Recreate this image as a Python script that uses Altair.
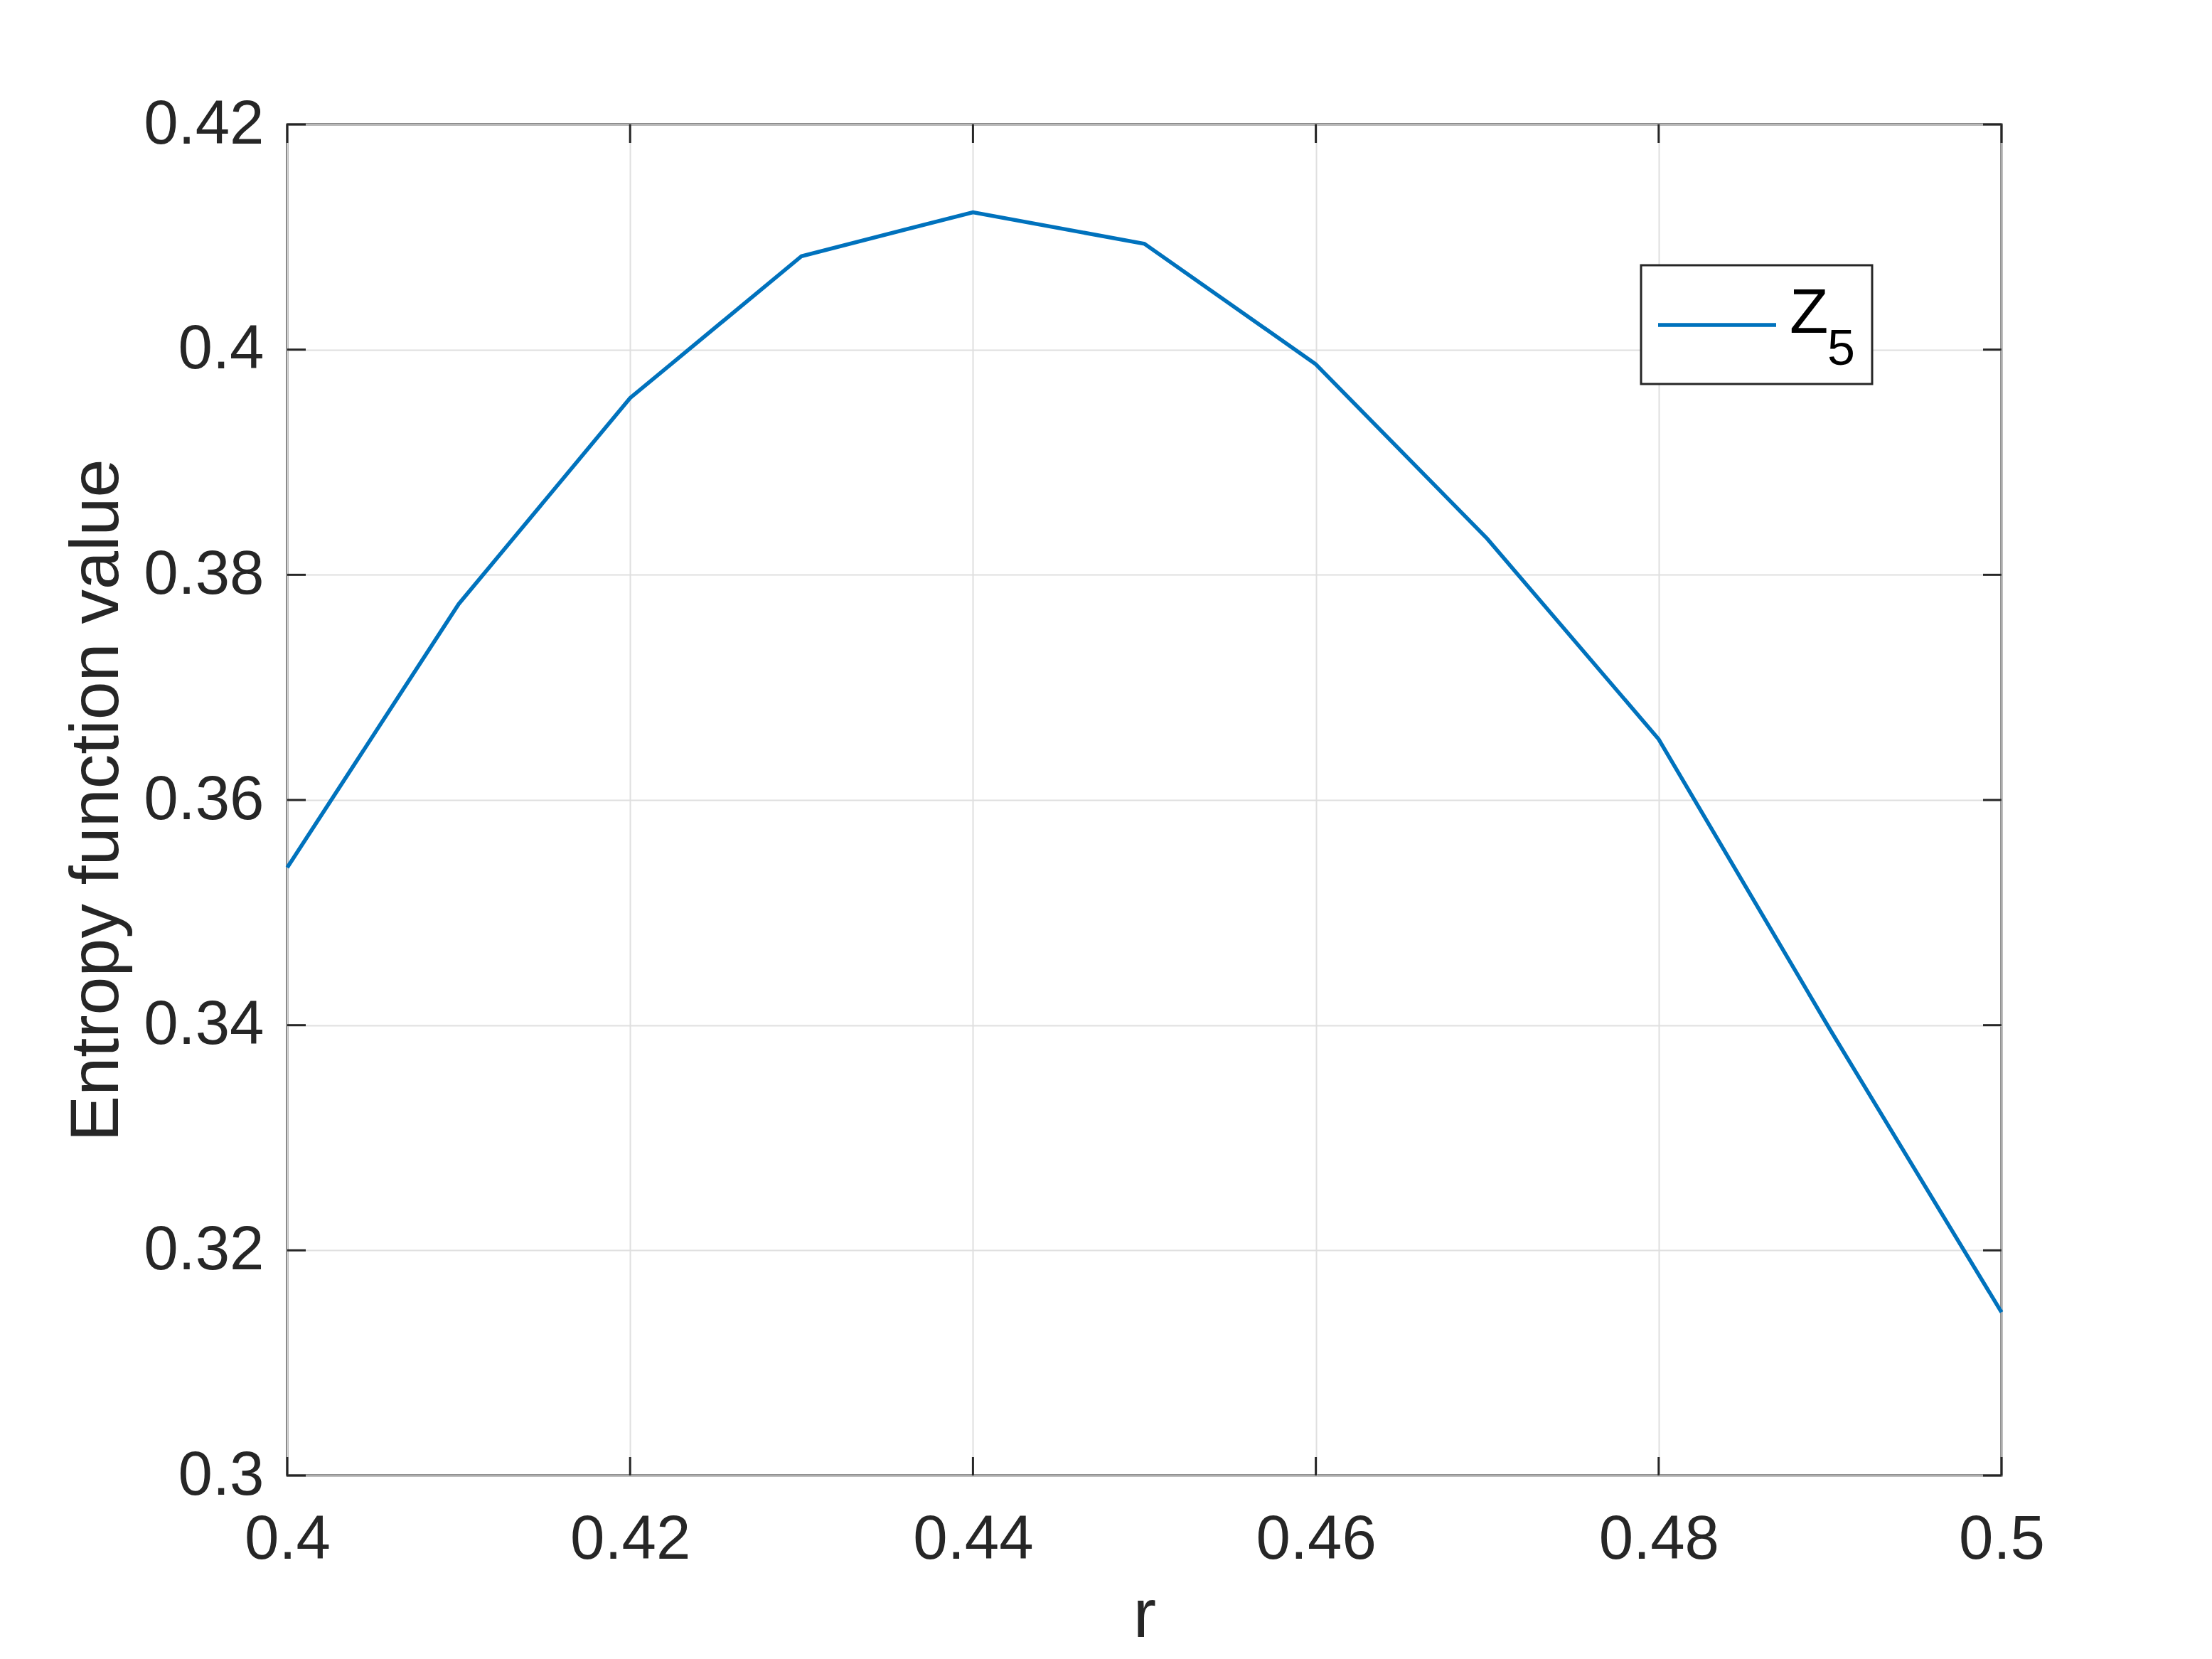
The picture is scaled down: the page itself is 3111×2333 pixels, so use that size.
import altair as alt
import pandas as pd

# ---- data ----
r_values = [0.40, 0.41, 0.42, 0.43, 0.44, 0.45, 0.46, 0.47, 0.48, 0.49, 0.50]
entropy_values = [0.3540, 0.3774, 0.3957, 0.4083, 0.4122, 0.4094, 0.3987, 0.3832, 0.3654, 0.3396, 0.3145]
x_ticks = [0.40, 0.42, 0.44, 0.46, 0.48, 0.50]
y_ticks = [0.30, 0.32, 0.34, 0.36, 0.38, 0.40, 0.42]
legend_label = ["Z"]
legend_sub = ["5"]

W, H = 2411, 1900
TICK = 26
FONT = "Liberation Sans"
DARK = "#262626"
BLUE = "#0072BD"

df = pd.DataFrame({"r": r_values, "v": entropy_values})
xt = pd.DataFrame({"r": x_ticks})
yt = pd.DataFrame({"v": y_ticks})
one = pd.DataFrame({"label": legend_label, "sub": legend_sub})

xs = alt.Scale(domain=[0.4, 0.5], nice=False)
ys = alt.Scale(domain=[0.3, 0.42], nice=False, zero=False)

x_axis = alt.Axis(
    values=x_ticks, format=".2~f", title="r", labelPadding=47,
    labelFlush=False, labelOverlap=False,
    titleX=W / 2, titleY=226, titleBaseline="alphabetic", titleAlign="center")
y_axis = alt.Axis(
    values=y_ticks, format=".2~f", title="Entropy function value", labelPadding=33,
    labelFlush=False, labelOverlap=False,
    titleX=-239, titleY=H / 2, titleAngle=270, titleBaseline="alphabetic", titleAlign="center")

X = alt.X("r:Q", scale=xs, axis=x_axis)
Y = alt.Y("v:Q", scale=ys, axis=y_axis)

line = alt.Chart(df).mark_line(color=BLUE, strokeWidth=5.5).encode(x=X, y=Y)

rule_style = dict(color=DARK, strokeWidth=3)
xt_bottom = alt.Chart(xt).mark_rule(**rule_style).encode(
    x=X, y=alt.value(H), y2=alt.value(H - TICK))
xt_top = alt.Chart(xt).mark_rule(**rule_style).encode(
    x=X, y=alt.value(0), y2=alt.value(TICK))
yt_left = alt.Chart(yt).mark_rule(**rule_style).encode(
    y=Y, x=alt.value(0), x2=alt.value(TICK))
yt_right = alt.Chart(yt).mark_rule(**rule_style).encode(
    y=Y, x=alt.value(W), x2=alt.value(W - TICK))

leg_box = alt.Chart(one).mark_rect(fill="white", stroke=DARK, strokeWidth=3).encode(
    x=alt.value(1904), x2=alt.value(2229), y=alt.value(198), y2=alt.value(365))
leg_line = alt.Chart(one).mark_rule(color=BLUE, strokeWidth=5.5).encode(
    x=alt.value(1928), x2=alt.value(2094), y=alt.value(282))
leg_text = alt.Chart(one).mark_text(font=FONT, fontSize=89, align="left",
                                    baseline="alphabetic", color="black").encode(
    x=alt.value(2113), y=alt.value(293), text="label:N")
leg_sub = alt.Chart(one).mark_text(font=FONT, fontSize=70, align="left",
                                   baseline="alphabetic", color="black").encode(
    x=alt.value(2166), y=alt.value(338), text="sub:N")

chart = alt.layer(
    line, xt_bottom, xt_top, yt_left, yt_right, leg_box, leg_line, leg_text, leg_sub
).properties(
    width=W, height=H,
    autosize=alt.AutoSizeParams(type="none"),
    padding={"left": 396, "top": 167, "right": 280, "bottom": 250},
    background="white",
).configure_view(
    stroke=DARK, strokeWidth=3
).configure_axis(
    labelFont=FONT, labelFontSize=87, labelColor=DARK,
    titleFont=FONT, titleFontSize=97, titleFontWeight="normal", titleColor=DARK,
    grid=True, gridColor="#dfdfdf", gridWidth=2,
    domain=False, ticks=False,
)

chart.save("out.html", embed_options={"renderer": "svg", "actions": False})
